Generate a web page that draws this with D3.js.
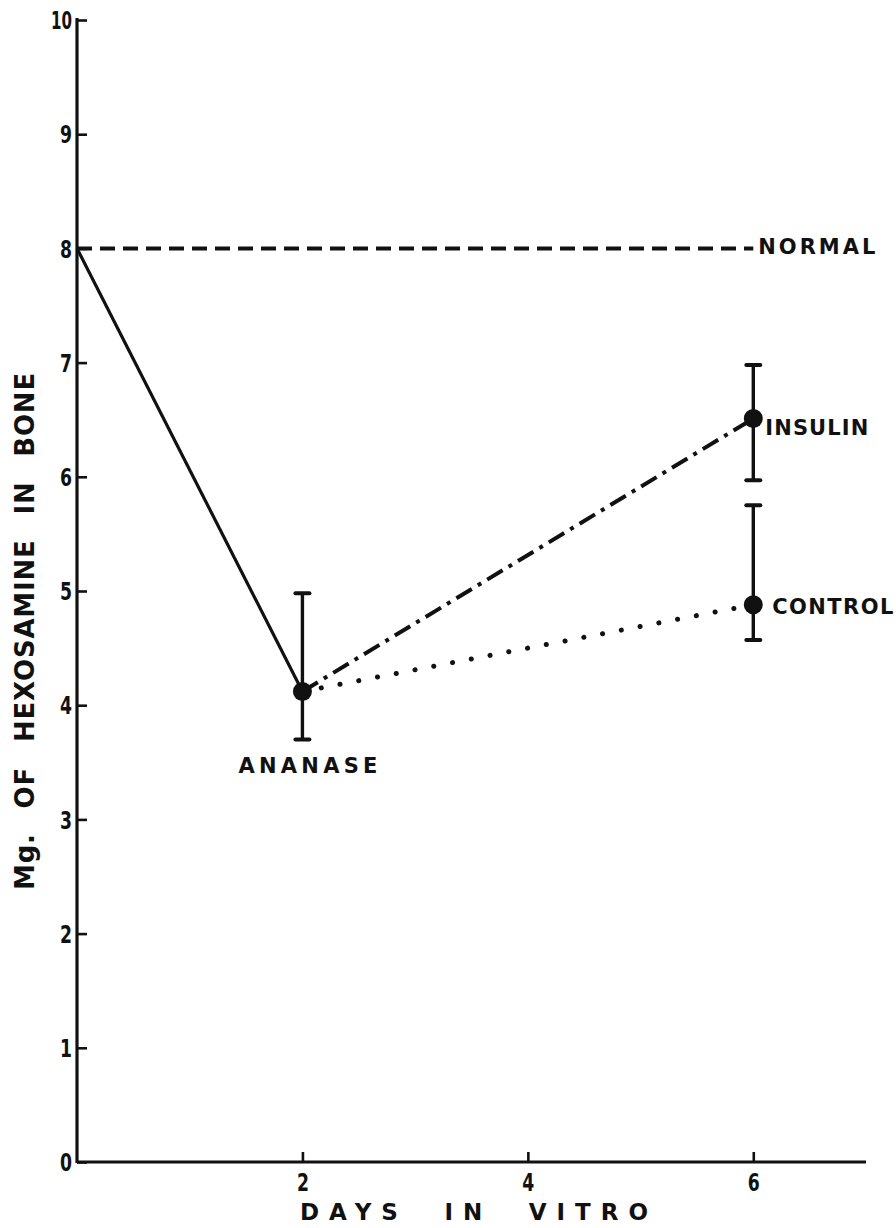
<!DOCTYPE html>
<html>
<head>
<meta charset="utf-8">
<script src="https://cdn.jsdelivr.net/npm/d3@7"></script>
<style>
  html, body { margin: 0; padding: 0; background: #fff; }
  svg { display: block; }
  text { font-family: "DejaVu Sans", "Liberation Sans", sans-serif; font-weight: bold; fill: #111; }
</style>
</head>
<body>
<svg id="chart" width="896" height="1228"></svg>
<script>
// Hexosamine content of bone over days in vitro
const xTicks = [2, 4, 6];
const yTicks = [0, 1, 2, 3, 4, 5, 6, 7, 8, 9, 10];

const normalLevel = 8;
const normalDays = [0, 6];

// solid segment: initial level down to the ananase point
const ananaseDays = [0, 2];
const ananaseValues = [8, 4.12];

const insulinDays = [2, 6];
const insulinValues = [4.12, 6.51];

const controlDays = [2, 6];
const controlValues = [4.12, 4.88];

// measured points with their ranges
const pointNames = ["ANANASE", "INSULIN", "CONTROL"];
const pointDays = [2, 6, 6];
const pointValues = [4.12, 6.51, 4.88];
const rangeLow = [3.70, 5.97, 4.57];
const rangeHigh = [4.98, 6.98, 5.75];

const svg = d3.select("#chart");
const ink = "#111";

const x = d3.scaleLinear().domain([0, 7]).range([77, 866]);
const y = d3.scaleLinear().domain([0, 10]).range([1162, 20]);

// axes with ticks pointing into the plot
const xAxis = svg.append("g")
  .attr("transform", `translate(0,${y(0)})`)
  .call(d3.axisBottom(x).tickValues(xTicks).tickSizeInner(-10).tickSizeOuter(0).tickPadding(12).tickFormat(d3.format("d")));
const yAxis = svg.append("g")
  .attr("transform", `translate(${x(0)},0)`)
  .call(d3.axisLeft(y).tickValues(yTicks).tickSizeInner(-10).tickSizeOuter(0).tickPadding(5).tickFormat(d3.format("d")));

[xAxis, yAxis].forEach(g => {
  g.select(".domain").attr("stroke", ink).attr("stroke-width", 3.2);
  g.selectAll(".tick line").attr("stroke", ink).attr("stroke-width", 2.6);
  g.selectAll(".tick text").attr("fill", ink)
    .style("font-size", "24px").style("font-weight", "bold").style("font-family", "'DejaVu Sans', sans-serif")
    .attr("textLength", d => d >= 10 ? 21 : 12)
    .attr("lengthAdjust", "spacingAndGlyphs");
});
xAxis.select(".domain").attr("d", `M${x(0)},0H${x(7)}`);
yAxis.select(".domain").attr("d", `M0,${y(0) + 1}V${y(10) - 2}`);
xAxis.selectAll(".tick text").attr("dy", "0.71em");
yAxis.selectAll(".tick text").attr("dy", "0.36em");

const line = d3.line().x(d => x(d[0])).y(d => y(d[1]));

// normal level (dashed)
svg.append("path")
  .datum(normalDays.map(d => [d, normalLevel]))
  .attr("d", line)
  .attr("fill", "none").attr("stroke", ink).attr("stroke-width", 4)
  .attr("stroke-dasharray", "15,8");

// solid drop to the ananase point
svg.append("path")
  .datum(ananaseDays.map((d, i) => [d, ananaseValues[i]]))
  .attr("d", line)
  .attr("fill", "none").attr("stroke", ink).attr("stroke-width", 3.2);

// insulin (dash-dot)
svg.append("path")
  .datum(insulinDays.map((d, i) => [d, insulinValues[i]]))
  .attr("d", line)
  .attr("fill", "none").attr("stroke", ink).attr("stroke-width", 4)
  .attr("stroke-dasharray", "18,7,4,7");

// control (dotted)
svg.append("path")
  .datum(controlDays.map((d, i) => [d, controlValues[i]]))
  .attr("d", line)
  .attr("fill", "none").attr("stroke", ink).attr("stroke-width", 5)
  .attr("stroke-linecap", "round")
  .attr("stroke-dasharray", "0.1,19");

// range bars and points
const pts = pointNames.map((n, i) => ({ name: n, day: pointDays[i], v: pointValues[i], lo: rangeLow[i], hi: rangeHigh[i] }));
const bars = svg.append("g");
pts.forEach(p => {
  bars.append("line").attr("x1", x(p.day)).attr("x2", x(p.day)).attr("y1", y(p.lo)).attr("y2", y(p.hi))
    .attr("stroke", ink).attr("stroke-width", 3.4);
  [p.lo, p.hi].forEach(v => {
    bars.append("line").attr("x1", x(p.day) - 7).attr("x2", x(p.day) + 7).attr("y1", y(v)).attr("y2", y(v))
      .attr("stroke", ink).attr("stroke-width", 4).attr("stroke-linecap", "round");
  });
  bars.append("circle").attr("cx", x(p.day)).attr("cy", y(p.v)).attr("r", 9.5).attr("fill", ink);
});

// curve labels
function label(txt, px, py, len) {
  return svg.append("text").attr("x", px).attr("y", py).attr("dy", "0.36em")
    .style("font-size", "21px")
    .attr("textLength", len).attr("lengthAdjust", "spacing")
    .text(txt);
}
label("NORMAL", x(6) + 5, y(normalLevel) - 2, 117);
label(pointNames[1], x(6) + 12, y(pointValues[1]) + 9, 103);
label(pointNames[2], x(6) + 19, y(pointValues[2]) + 2, 121);
label(pointNames[0], x(2) - 64, y(rangeLow[0]) + 26, 139);

// spread a title to a given length, widening the gaps between words
function spreadTitle(sel, letter, target) {
  sel.style("letter-spacing", letter + "px").style("word-spacing", "0px");
  const natural = sel.node().getComputedTextLength();
  const gaps = (sel.text().match(/ /g) || []).length;
  sel.style("word-spacing", Math.max(0, (target - natural) / gaps) + "px");
}

// axis titles
const xTitle = svg.append("text").attr("x", 300).attr("y", 1212).attr("dy", "0.36em")
  .style("font-size", "23px")
  .text("DAYS IN VITRO");
spreadTitle(xTitle, 10, 358);

const yTitle = svg.append("text").attr("transform", "translate(25,890) rotate(-90)").attr("dy", "0.36em")
  .style("font-size", "26px")
  .text("Mg. OF HEXOSAMINE IN BONE");
spreadTitle(yTitle, 0.8, 518);
</script>
</body>
</html>
